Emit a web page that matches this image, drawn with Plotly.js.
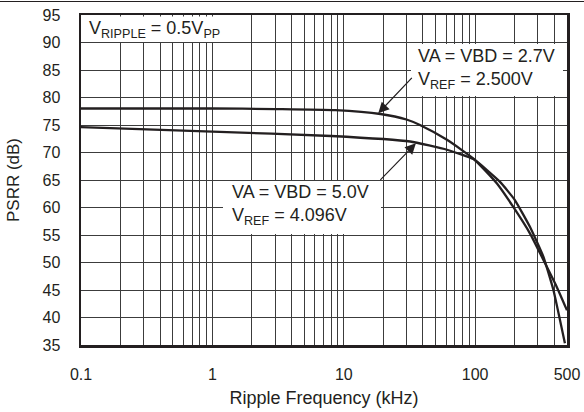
<!DOCTYPE html>
<html>
<head>
<meta charset="utf-8">
<script src="https://cdn.plot.ly/plotly-3.0.1.min.js"></script>
<style>html,body{margin:0;padding:0;background:#fff;}#chart{width:584px;height:412px;}</style>
</head>
<body>
<div id="chart"></div>
<script>
// Ripple frequency (kHz) and PSRR (dB) for each supply condition
var freq27 = [0.1, 1, 3, 8.6, 19, 30, 38, 61, 97, 103, 146, 195, 261, 330, 417, 500];
var psrr27 = [78.0, 78.0, 77.9, 77.7, 77.0, 76.0, 75.0, 72.3, 68.9, 68.3, 64.4, 60.1, 55.3, 50.5, 45.6, 41.3];
var freq50 = [0.1, 1, 8, 32, 61, 97, 154, 200, 261, 330, 394, 482];
var psrr50 = [74.6, 73.8, 73.0, 72.0, 70.5, 68.8, 64.7, 61.4, 56.5, 51.1, 45.0, 35.3];

var xTickVals = [0.1, 1, 10, 100, 500];
var xTickText = ['0.1', '1', '10', '100', '500'];
var xMinorGrid = [0.2,0.3,0.4,0.5,0.6,0.7,0.8,0.9,2,3,4,5,6,7,8,9,20,30,40,50,60,70,80,90,200,300,400];
var yTickVals = [35,40,45,50,55,60,65,70,75,80,85,90,95];

var ink = '#231f20';
var gridCol = '#3c3c3c';
var fontFam = '"Liberation Sans", Arial, Helvetica, sans-serif';

// plot area in pixels: left 81, right 567, top 15, bottom 345
function px2paperX(p){ return (p - 81) / 486; }
function px2paperY(p){ return (345 - p) / 330; }

var traces = [
  {x: freq27, y: psrr27, type: 'scatter', mode: 'lines', name: 'VA = VBD = 2.7V',
   line: {color: ink, width: 2.3, shape: 'spline', smoothing: 0.6}, hoverinfo: 'skip'},
  {x: freq50, y: psrr50, type: 'scatter', mode: 'lines', name: 'VA = VBD = 5.0V',
   line: {color: ink, width: 2.3, shape: 'spline', smoothing: 0.4}, hoverinfo: 'skip'}
];

var layout = {
  width: 584, height: 412,
  margin: {l: 81, r: 17, t: 15, b: 67, pad: 0},
  paper_bgcolor: '#fff', plot_bgcolor: '#fff',
  showlegend: false,
  font: {family: fontFam, color: ink, size: 16},
  xaxis: {
    type: 'log', range: [-1, Math.log10(500)],
    tickmode: 'array', tickvals: xTickVals, ticktext: xTickText,
    ticks: '', showgrid: true, gridcolor: gridCol, gridwidth: 1,
    minor: {tickmode: 'array', tickvals: xMinorGrid, showgrid: true, gridcolor: gridCol, gridwidth: 1, ticks: ''},
    showline: true, linecolor: ink, linewidth: 2.5, mirror: true,
    zeroline: false, ticklabelstandoff: 13,
    tickfont: {size: 16, color: ink, family: fontFam},
    title: {text: 'Ripple Frequency (kHz)', font: {size: 18, color: ink, family: fontFam}, standoff: 10}
  },
  yaxis: {
    range: [35, 95], tickmode: 'array', tickvals: yTickVals,
    ticks: '', showgrid: true, gridcolor: gridCol, gridwidth: 1,
    showline: true, linecolor: ink, linewidth: 2.5, mirror: true,
    zeroline: false, ticklabelstandoff: 15,
    tickfont: {size: 16, color: ink, family: fontFam},
    title: {text: 'PSRR (dB)', font: {size: 17, color: ink, family: fontFam}, standoff: 19}
  },
  shapes: [
    // full-width rule at top of figure
    {type: 'line', xref: 'paper', yref: 'paper', x0: px2paperX(0), x1: px2paperX(584),
     y0: px2paperY(1.5), y1: px2paperY(1.5), line: {color: ink, width: 1.2}},
    // white label boxes
    {type: 'rect', xref: 'paper', yref: 'paper', layer: 'above',
     x0: px2paperX(82.5), x1: px2paperX(249), y0: px2paperY(42), y1: px2paperY(16.5),
     fillcolor: '#fff', line: {width: 0}},
    {type: 'rect', xref: 'paper', yref: 'paper', layer: 'above',
     x0: px2paperX(411), x1: px2paperX(563), y0: px2paperY(96), y1: px2paperY(44),
     fillcolor: '#fff', line: {width: 0}},
    {type: 'rect', xref: 'paper', yref: 'paper', layer: 'above',
     x0: px2paperX(223), x1: px2paperX(381), y0: px2paperY(234), y1: px2paperY(181),
     fillcolor: '#fff', line: {width: 0}}
  ],
  annotations: [
    {xref: 'paper', yref: 'paper', x: px2paperX(87), y: px2paperY(29),
     xanchor: 'left', yanchor: 'middle', showarrow: false, align: 'left',
     text: 'V<sub>RIPPLE</sub> = 0.5V<sub>PP</sub>', font: {size: 18, color: ink, family: fontFam}},
    {xref: 'paper', yref: 'paper', x: px2paperX(416), y: px2paperY(69),
     xanchor: 'left', yanchor: 'middle', showarrow: false, align: 'left',
     text: 'VA = VBD = 2.7V<br>V<sub>REF</sub> = 2.500V', font: {size: 18, color: ink, family: fontFam}},
    {xref: 'paper', yref: 'paper', x: px2paperX(230), y: px2paperY(205),
     xanchor: 'left', yanchor: 'middle', showarrow: false, align: 'left',
     text: 'VA = VBD = 5.0V<br>V<sub>REF</sub> = 4.096V', font: {size: 18, color: ink, family: fontFam}},
    // arrows pointing to the curves
    {x: Math.log10(18.3), y: 77.13, xref: 'x', yref: 'y', text: '', showarrow: true,
     axref: 'pixel', ayref: 'pixel', ax: 35, ay: -37, arrowhead: 2, arrowsize: 1.8,
     arrowwidth: 1.2, arrowcolor: ink, standoff: 0},
    {x: Math.log10(35.4), y: 71.67, xref: 'x', yref: 'y', text: '', showarrow: true,
     axref: 'pixel', ayref: 'pixel', ax: -37, ay: 38, arrowhead: 2, arrowsize: 1.8,
     arrowwidth: 1.2, arrowcolor: ink, standoff: 0}
  ]
};

Plotly.newPlot('chart', traces, layout, {staticPlot: true, displayModeBar: false});
</script>
</body>
</html>
